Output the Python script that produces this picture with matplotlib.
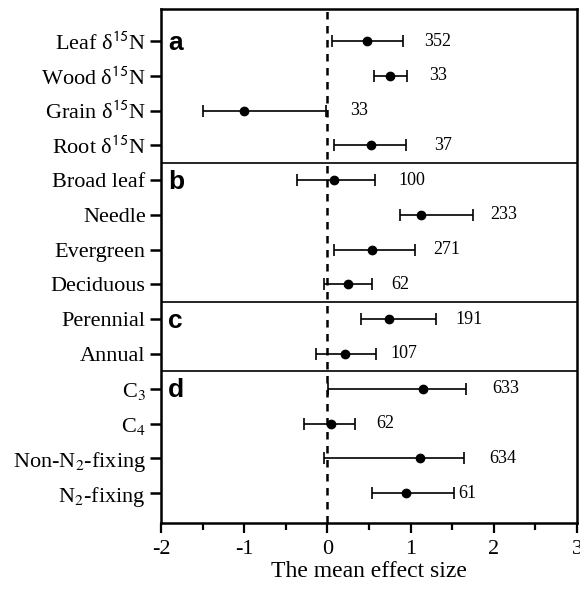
import numpy as np
import matplotlib
matplotlib.use('Agg')
import matplotlib.pyplot as plt
from matplotlib.ticker import MultipleLocator

plt.rcParams['font.family'] = ['Liberation Serif', 'DejaVu Serif']
plt.rcParams['mathtext.fontset'] = 'stix'

labels = ['Leaf δ$^{\\mathsf{15}}$N', 'Wood δ$^{\\mathsf{15}}$N', 'Grain δ$^{\\mathsf{15}}$N',
          'Root δ$^{\\mathsf{15}}$N', 'Broad leaf', 'Needle', 'Evergreen', 'Deciduous',
          'Perennial', 'Annual', 'C$_3$', 'C$_4$', 'Non-N$_2$-fixing', 'N$_2$-fixing']
means = [0.47, 0.75, -1.00, 0.53, 0.08, 1.12, 0.54, 0.25, 0.74, 0.21, 1.15, 0.04, 1.11, 0.94]
lower = [0.05, 0.56, -1.49, 0.08, -0.37, 0.87, 0.08, -0.04, 0.40, -0.14, 0.01, -0.28, -0.04, 0.54]
upper = [0.91, 0.96, -0.02, 0.94, 0.57, 1.75, 1.05, 0.54, 1.30, 0.59, 1.66, 0.33, 1.64, 1.52]
n_obs = [352, 33, 33, 37, 100, 233, 271, 62, 191, 107, 633, 62, 634, 61]
panels = ['a', 'b', 'c', 'd']
panel_start = [0, 4, 8, 10]
xticks = [-2, -1, 0, 1, 2, 3]

# gap between upper cap and the n label, in points
label_gap = [25, 22, 24, 27, 27, 22, 23, 20, 24, 20, 29, 22, 28, 10]

means = np.array(means)
lower = np.array(lower)
upper = np.array(upper)
y = np.arange(len(labels))

fig = plt.figure(figsize=(5.8, 5.89), dpi=100)
ax = fig.add_axes([0.2776, 0.1121, 0.7172, 0.8726])

ax.errorbar(means, y, xerr=[means - lower, upper - means], fmt='o', color='black',
            ms=6, lw=1.2, capsize=4, capthick=1.2, elinewidth=1.2)

for yi, hi, n, g in zip(y, upper, n_obs, label_gap):
    ax.annotate(str(n), (hi, yi), xytext=(g, 0), textcoords='offset points',
                ha='center', va='center', fontsize=13)

ax.axvline(0, color='black', ls=(0, (3, 2.6)), lw=1.8)
for s in panel_start[1:]:
    ax.axhline(s - 0.5, color='black', lw=1.2)

for p, s in zip(panels, panel_start):
    ax.text(0.017, s - 0.5 + 0.75, p, transform=ax.get_yaxis_transform(), fontsize=19,
            fontweight='bold', family='Liberation Sans', ha='left', va='baseline')

ax.set_xlim(-2, 3)
ax.set_ylim(13.86, -0.92)
ax.set_yticks(y)
ax.set_yticklabels(labels, fontsize=16)
ax.set_xticks(xticks)
ax.set_xticklabels([str(t) for t in xticks], fontsize=16)
ax.xaxis.set_minor_locator(MultipleLocator(0.5))
ax.tick_params(axis='y', length=8, width=1.8, pad=3)
ax.tick_params(axis='x', which='major', length=7, width=1.6, pad=5)
ax.tick_params(axis='x', which='minor', length=5, width=1.6)
ax.set_xlabel('The mean effect size', fontsize=17, labelpad=2)
for sp in ax.spines.values():
    sp.set_linewidth(1.8)

fig.savefig('out.png', dpi=100)
